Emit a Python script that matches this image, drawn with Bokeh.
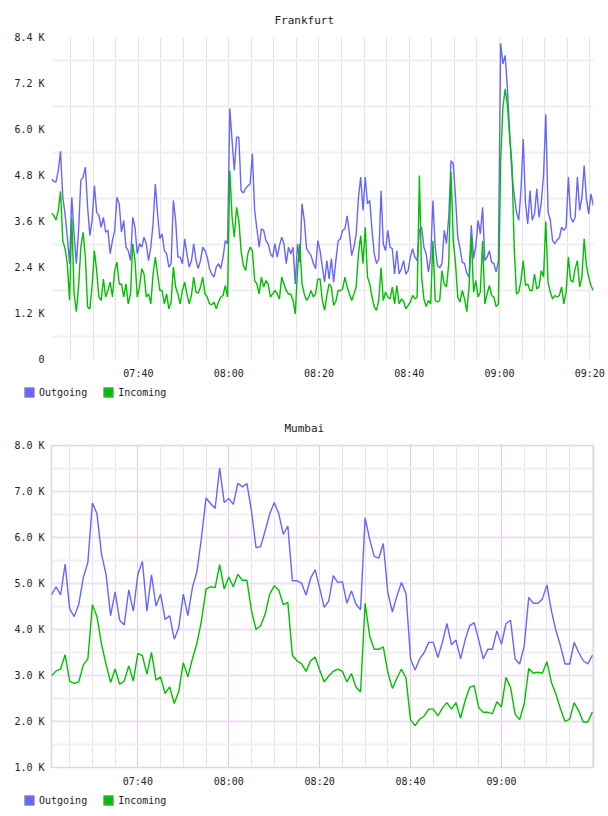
from bokeh.plotting import figure
from bokeh.layouts import column, row
from bokeh.models import Range1d, FixedTicker, Legend, LegendItem
from bokeh.embed import file_html
from bokeh.resources import INLINE

FONT = "DejaVu Sans Mono"
BLUE = "#6666ff"
GREEN = "#00c000"
LINE_W = 1.4

# ---------------- data ----------------
fra_title = "Frankfurt"
fra_start = "07:20:45"
fra_step_seconds = 30
fra_end = "09:20:49"
fra_outgoing = [
    4.71, 4.65, 4.63, 4.93, 5.43, 4.23, 3.80, 3.19, 2.50, 4.23, 3.28, 2.50, 3.37, 4.67, 4.76, 5.02,
    3.97, 3.23, 3.63, 4.54, 3.84, 3.76, 3.45, 3.71, 3.32, 3.37, 2.76, 3.10, 3.37, 4.23, 4.06, 3.32,
    3.63, 2.93, 2.84, 2.58, 3.71, 3.45, 2.76, 3.02, 2.93, 3.19, 3.02, 2.58, 2.93, 3.54, 4.58, 3.80,
    3.15, 3.28, 2.84, 2.76, 2.41, 2.50, 4.15, 3.63, 2.67, 2.67, 2.50, 3.15, 2.76,
    2.41, 2.57, 3.02, 2.60, 2.37, 2.58, 2.93, 2.84, 2.67, 2.37, 2.23, 2.15, 2.41, 2.50, 2.37, 2.67,
    3.10, 3.02, 6.55, 5.71, 4.93, 5.80, 5.80, 4.41, 4.34, 4.46, 4.53, 4.58, 5.37, 3.89, 3.41, 2.93,
    3.41, 3.37, 3.10, 3.02, 2.76, 2.67, 3.02, 2.67, 2.97, 3.19, 3.02, 2.50, 2.93, 2.76, 2.93, 1.97,
    3.02, 2.54, 4.06, 3.63, 2.89, 2.80, 2.71, 2.51, 2.37, 3.10, 2.84, 2.41,
    2.02, 2.58, 2.10, 2.63, 2.02, 2.58, 3.10, 3.15, 3.37, 3.41, 3.75, 3.28, 2.71, 2.93, 3.28, 4.23,
    4.76, 3.89, 4.76, 4.06, 4.15, 3.37, 2.76, 2.50, 2.63, 4.40, 3.02, 2.84, 3.37, 2.93, 2.89, 2.23,
    2.84, 2.23, 2.37, 2.58, 2.23, 2.32, 2.67, 2.89, 2.67, 2.58, 3.37, 3.45, 2.93, 2.76, 2.28, 2.67,
    4.15, 2.93, 2.45, 2.39, 2.50, 3.37, 3.02, 3.71, 5.19, 5.10, 4.23, 3.19, 2.89,
    2.54, 2.50, 2.25, 2.15, 3.50, 2.63, 2.97, 3.63, 3.28, 3.97, 2.58, 2.67, 2.84, 2.54, 2.50, 2.28,
    2.58, 8.25, 7.71, 7.93, 7.06, 5.89, 4.84, 4.30, 3.84, 3.63, 4.41, 5.75, 4.08, 3.54, 4.41, 3.63,
    3.80, 4.45, 3.71, 4.10, 4.80, 6.40, 3.84, 3.64, 3.10, 3.02, 3.12, 3.17, 3.45, 3.37, 3.45, 4.76,
    3.71, 3.58, 3.71, 4.76, 3.89, 4.23, 5.06, 4.19, 3.80, 4.32, 4.02,
]
fra_incoming = [
    3.82, 3.76, 3.64, 3.89, 4.39, 3.10, 2.89, 2.50, 1.54, 3.70, 1.71, 1.25, 1.90, 2.93, 3.32, 2.67,
    1.37, 1.32, 1.93, 2.84, 2.32, 1.63, 1.54, 2.10, 1.63, 1.80, 2.02, 1.63, 2.32, 2.54, 1.97, 1.97,
    1.63, 1.97, 1.45, 1.71, 3.02, 2.58, 1.63, 1.89, 2.37, 2.23, 1.63, 1.71, 1.45, 2.23, 2.67, 2.23,
    1.80, 1.80, 1.45, 1.71, 1.32, 1.50, 2.41, 1.89, 1.71, 1.45, 1.80, 2.02, 1.71,
    1.45, 1.67, 2.15, 1.76, 1.73, 1.89, 2.15, 1.71, 1.63, 1.45, 1.43, 1.50, 1.32, 1.50, 1.63, 1.67,
    1.93, 1.63, 4.93, 3.71, 3.19, 3.97, 3.63, 2.84, 2.45, 2.32, 2.76, 2.93, 2.84, 2.06, 1.97, 1.71,
    2.15, 1.89, 2.06, 1.97, 1.63, 1.71, 1.80, 1.71, 1.58, 2.15, 1.97, 1.80, 1.71, 1.71, 1.54, 1.19,
    2.32, 3.02, 1.97, 1.71, 1.54, 1.63, 1.80, 1.63, 1.71, 2.10, 2.10, 1.54,
    1.28, 1.67, 1.97, 1.89, 1.41, 1.52, 1.80, 1.80, 1.84, 2.15, 1.89, 1.71, 1.54, 1.71, 1.89, 2.76,
    3.23, 2.50, 3.45, 2.15, 1.97, 1.63, 1.37, 1.28, 1.54, 2.40, 1.54, 1.76, 1.63, 1.58, 1.89, 1.45,
    1.93, 1.45, 1.58, 1.52, 1.32, 1.41, 1.50, 1.67, 1.58, 1.63, 4.80, 2.15, 1.58, 1.38, 1.54, 1.45,
    3.10, 1.54, 1.50, 1.54, 2.32, 1.97, 1.89, 2.50, 4.90, 3.10, 2.50, 1.63, 1.50,
    1.80, 1.58, 1.25, 1.90, 3.23, 1.76, 2.06, 1.63, 1.76, 3.10, 1.45, 1.71, 1.93, 1.67, 1.63, 1.38,
    1.45, 5.20, 6.58, 7.06, 6.63, 5.80, 5.10, 2.93, 1.71, 1.76, 2.06, 2.58, 1.93, 1.97, 1.80, 1.80,
    2.23, 1.84, 1.90, 2.32, 2.15, 3.60, 2.02, 1.76, 1.58, 1.67, 1.63, 1.67, 1.89, 1.45, 1.76, 2.67,
    2.06, 2.02, 2.37, 2.58, 1.89, 2.15, 3.15, 2.45, 2.15, 1.93, 1.80,
]
fra_y_ticks = [0, 1.2, 2.4, 3.6, 4.8, 6.0, 7.2, 8.4]
fra_y_labels = ["0", "1.2 K", "2.4 K", "3.6 K", "4.8 K", "6.0 K", "7.2 K", "8.4 K"]
fra_x_labels = ["07:40", "08:00", "08:20", "08:40", "09:00", "09:20"]

mum_title = "Mumbai"
mum_start = "07:21:00"
mum_step_seconds = 60
mum_end = "09:20:15"
mum_outgoing = [
    4.75, 4.93, 4.75, 5.42, 4.45, 4.28, 4.55, 5.13, 5.46, 6.75,
    6.52, 5.64, 5.20, 4.30, 4.82, 4.20, 4.10, 4.86, 4.40, 5.20,
    5.48, 4.40, 5.19, 4.51, 4.77, 4.22, 4.30, 3.79, 4.04, 4.77,
    4.30, 4.91, 5.26, 6.00, 6.86, 6.74, 6.63, 7.51, 6.76, 6.85,
    6.72, 7.18, 7.10, 7.17, 6.58, 5.78, 5.80, 6.14, 6.51, 6.76,
    6.52, 6.07, 6.25, 5.06, 5.06, 5.01, 4.75, 5.11, 5.30, 4.90,
    4.48, 4.62, 5.17, 5.02, 5.04, 4.57, 4.84, 4.55, 4.43, 6.43,
    5.96, 5.59, 5.55, 5.87, 4.80, 4.38, 4.73, 5.02, 4.78, 3.36,
    3.12, 3.36, 3.50, 3.72, 3.72, 3.39, 3.72, 4.13, 3.67, 3.77,
    3.36, 3.77, 4.08, 4.15, 3.77, 3.36, 3.57, 3.57, 3.97, 3.68,
    4.13, 4.20, 3.36, 3.25, 3.64, 4.70, 4.57, 4.57, 4.66, 4.97,
    4.40, 3.97, 3.64, 3.25, 3.25, 3.72, 3.50, 3.32, 3.25, 3.44,
]
mum_incoming = [
    2.99, 3.10, 3.14, 3.45, 2.88, 2.83, 2.86, 3.23, 3.36, 4.54,
    4.28, 3.68, 3.25, 2.85, 3.14, 2.81, 2.88, 3.21, 2.88, 3.48,
    3.43, 3.03, 3.50, 2.90, 2.97, 2.61, 2.75, 2.39, 2.65, 3.28,
    2.97, 3.36, 3.70, 4.19, 4.88, 4.93, 4.91, 5.41, 4.88, 5.14,
    4.93, 5.20, 5.07, 5.07, 4.41, 4.00, 4.08, 4.33, 4.77, 4.95,
    4.86, 4.54, 4.59, 3.44, 3.32, 3.26, 3.09, 3.32, 3.40, 3.12,
    2.86, 2.99, 3.09, 3.14, 3.09, 2.86, 3.04, 2.75, 2.64, 4.57,
    3.86, 3.57, 3.57, 3.62, 3.07, 2.72, 2.94, 3.14, 2.94, 2.03,
    1.91, 2.05, 2.12, 2.27, 2.27, 2.12, 2.29, 2.41, 2.27, 2.41,
    2.07, 2.45, 2.74, 2.78, 2.30, 2.20, 2.20, 2.17, 2.43, 2.32,
    2.96, 2.74, 2.16, 2.04, 2.38, 3.15, 3.05, 3.07, 3.05, 3.30,
    2.85, 2.59, 2.27, 2.00, 2.05, 2.41, 2.23, 1.99, 1.99, 2.21,
]
mum_y_ticks = [1, 2, 3, 4, 5, 6, 7, 8]
mum_y_labels = ["1.0 K", "2.0 K", "3.0 K", "4.0 K", "5.0 K", "6.0 K", "7.0 K", "8.0 K"]
mum_x_labels = ["07:40", "08:00", "08:20", "08:40", "09:00"]

series_names = ["Outgoing", "Incoming"]


def minutes(s):
    parts = [int(v) for v in s.split(":")]
    while len(parts) < 3:
        parts.append(0)
    return parts[0] * 60 + parts[1] + parts[2] / 60.0


def times(start, step_seconds, n):
    t0 = minutes(start)
    return [t0 + i * step_seconds / 60.0 for i in range(n)]


def base_figure(title, x0, x1, y0, y1, title_offset):
    p = figure(width=608, height=382, x_range=Range1d(x0, x1), y_range=Range1d(y0, y1),
               output_backend="svg", toolbar_location=None,
               min_border_left=51, min_border_right=15, min_border_top=37, min_border_bottom=23,
               background_fill_color="white", border_fill_color="white")
    p.title.text = title
    p.title.align = "left"
    p.title.offset = title_offset
    p.title.standoff = 22
    p.title.text_font = FONT
    p.title.text_font_size = "11px"
    p.title.text_font_style = "normal"
    p.title.text_color = "#222222"
    for ax in (p.xaxis[0], p.yaxis[0]):
        ax.axis_line_color = None
        ax.major_tick_line_color = None
        ax.minor_tick_line_color = None
        ax.major_tick_out = 0
        ax.major_tick_in = 0
        ax.minor_tick_out = 0
        ax.minor_tick_in = 0
        ax.major_label_text_font = FONT
        ax.major_label_text_font_size = "10px"
        ax.major_label_text_color = "#222222"
    p.xaxis[0].major_label_standoff = 8
    p.yaxis[0].major_label_standoff = 7
    return p


def legend_figure():
    lf = figure(width=608, height=26, x_range=Range1d(0, 1), y_range=Range1d(0, 1),
                output_backend="svg", toolbar_location=None,
                x_axis_type=None, y_axis_type=None,
                min_border_left=0, min_border_right=0, min_border_top=0, min_border_bottom=0,
                background_fill_color="white", border_fill_color="white")
    lf.outline_line_color = None
    lf.xgrid.visible = False
    lf.ygrid.visible = False
    # swatch renderers kept outside the visible range; only their legend glyphs show
    r1 = lf.quad(left=[-3], right=[-2], top=[-3], bottom=[-2], fill_color=BLUE, line_color="#999999")
    r2 = lf.quad(left=[-3], right=[-2], top=[-3], bottom=[-2], fill_color=GREEN, line_color="#999999")
    leg = Legend(items=[LegendItem(label=series_names[0], renderers=[r1]),
                        LegendItem(label=series_names[1], renderers=[r2])],
                 orientation="horizontal", location=(23, 10), padding=0, margin=0,
                 spacing=15, glyph_width=12, glyph_height=12, label_height=12,
                 label_standoff=4, label_text_font=FONT, label_text_font_size="10px",
                 label_text_color="#222222", border_line_color=None, background_fill_alpha=0)
    lf.add_layout(leg)
    return lf


# ---------------- Frankfurt ----------------
fx = times(fra_start, fra_step_seconds, len(fra_outgoing))
p1 = base_figure(fra_title, fx[0], minutes(fra_end), 0, 8.4, 223)
p1.outline_line_color = None
five = [minutes("07:25") + 5 * k for k in range(24)]
p1.xgrid.ticker = FixedTicker(ticks=five)
p1.xgrid.grid_line_color = "#e4e4e4"
p1.xgrid.grid_line_width = 1
p1.ygrid.ticker = FixedTicker(ticks=[0.6 + 1.2 * k for k in range(7)])
p1.ygrid.grid_line_color = "#efefef"
p1.ygrid.grid_line_width = 2
p1.xaxis[0].ticker = FixedTicker(ticks=[minutes(s) for s in fra_x_labels])
p1.xaxis[0].major_label_overrides = {minutes(s): s for s in fra_x_labels}
p1.yaxis[0].ticker = FixedTicker(ticks=fra_y_ticks)
p1.yaxis[0].major_label_overrides = dict(zip(fra_y_ticks, fra_y_labels))
p1.line(fx, fra_outgoing, line_color=BLUE, line_width=LINE_W)
p1.line(fx, fra_incoming, line_color=GREEN, line_width=LINE_W)
lg1 = legend_figure()

# ---------------- Mumbai ----------------
mx = times(mum_start, mum_step_seconds, len(mum_outgoing))
p2 = base_figure(mum_title, mx[0], minutes(mum_end), 1, 8, 233)
p2.outline_line_color = "#e2d2e8"
p2.outline_line_width = 1.5
majors = [minutes(s) for s in mum_x_labels]
p2.xgrid.ticker = FixedTicker(ticks=majors,
                              minor_ticks=[t for t in five if t not in majors])
p2.xgrid.grid_line_color = "#dccbe2"
p2.xgrid.minor_grid_line_color = "#e8e2ea"
p2.ygrid.ticker = FixedTicker(ticks=mum_y_ticks, minor_ticks=[1.5 + k for k in range(7)])
p2.ygrid.grid_line_color = "#eee0f0"
p2.ygrid.grid_line_width = 2
p2.ygrid.minor_grid_line_color = "#f1eff1"
p2.ygrid.minor_grid_line_width = 2
p2.xaxis[0].ticker = FixedTicker(ticks=majors)
p2.xaxis[0].major_label_overrides = {minutes(s): s for s in mum_x_labels}
p2.yaxis[0].ticker = FixedTicker(ticks=mum_y_ticks)
p2.yaxis[0].major_label_overrides = dict(zip(mum_y_ticks, mum_y_labels))
p2.line(mx, mum_outgoing, line_color=BLUE, line_width=LINE_W)
p2.line(mx, mum_incoming, line_color=GREEN, line_width=LINE_W)
lg2 = legend_figure()

# legend strips nested in their own rows so they keep a full-width frame
layout = column(p1, row(lg1), p2, row(lg2), spacing=0)
open("out.html", "w").write(file_html(layout, INLINE))
